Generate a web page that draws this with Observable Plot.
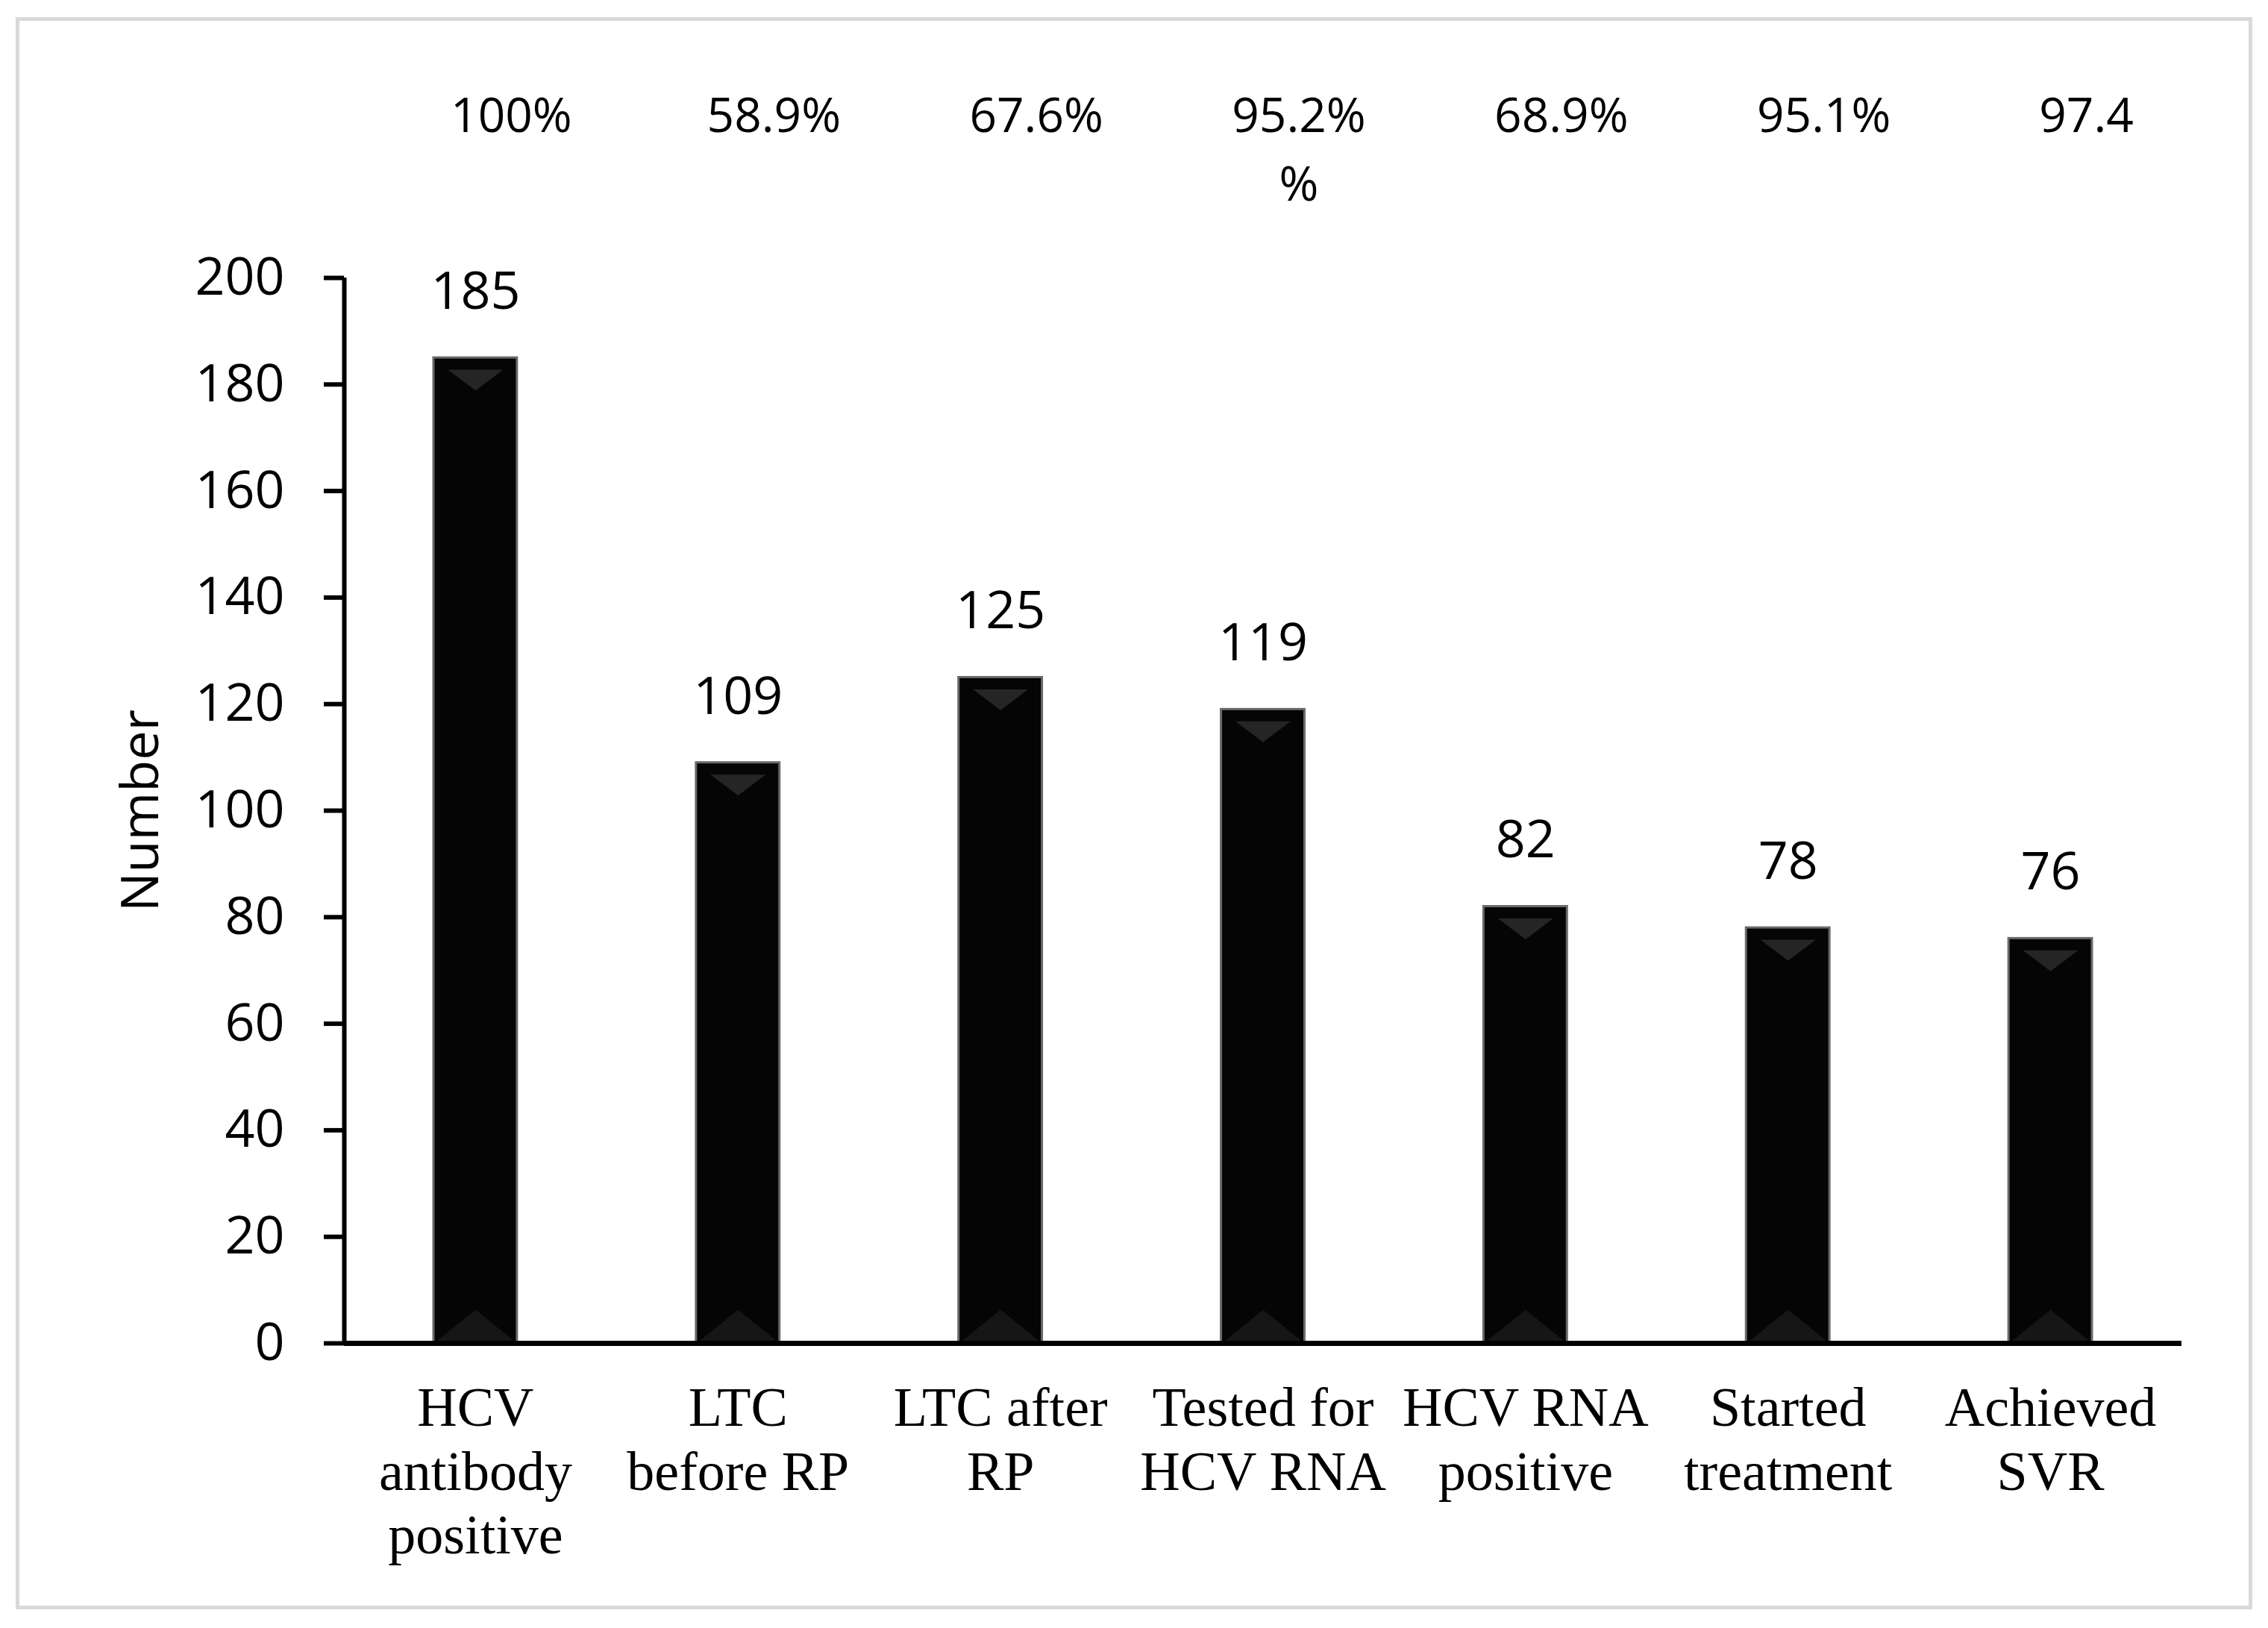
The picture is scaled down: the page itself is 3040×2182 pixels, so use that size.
<!DOCTYPE html>
<html>
<head>
<meta charset="utf-8">
<script src="https://cdn.jsdelivr.net/npm/d3@7"></script>
<script src="https://cdn.jsdelivr.net/npm/@observablehq/plot@0.6"></script>
<style>
  html, body { margin: 0; padding: 0; background: #ffffff; }
  #wrap { position: relative; width: 3040px; height: 2182px; overflow: hidden; background: #fff; }
  #wrap svg { position: absolute; left: 0; top: 0; }
  #border { position: absolute; left: 21px; top: 23px; width: 2998px; height: 2134px;
            box-sizing: border-box; border: 5px solid #d9d9d9; pointer-events: none; }
</style>
</head>
<body>
<div id="wrap"><div id="border"></div></div>
<script>
// ---- data ----
const categories = [
  "HCV\nantibody\npositive",
  "LTC\nbefore RP",
  "LTC after\nRP",
  "Tested for\nHCV RNA",
  "HCV RNA\npositive",
  "Started\ntreatment",
  "Achieved\nSVR"
];
const counts = [185, 109, 125, 119, 82, 78, 76];
const percentLabels = ["100%", "58.9%", "67.6%", "95.2%\n%", "68.9%", "95.1%", "97.4"];
const yTicks = [0, 20, 40, 60, 80, 100, 120, 140, 160, 180, 200];

const data = categories.map((c, i) => ({cat: c, value: counts[i], pct: percentLabels[i]}));

// ---- layout ----
const W = 3040, H = 2182;
const mL = 461, mR = 116, mT = 372, mB = 382;
const pInner = 0.682;
const step = (W - mL - mR) / categories.length;

const topBevel = {draw(ctx) { ctx.moveTo(-37, -14); ctx.lineTo(37, -14); ctx.lineTo(0, 14); ctx.closePath(); }};
const bottomBevel = {draw(ctx) { ctx.moveTo(-52, 21); ctx.lineTo(52, 21); ctx.lineTo(0, -21); ctx.closePath(); }};

const chart = Plot.plot({
  width: W,
  height: H,
  marginLeft: mL,
  marginRight: mR,
  marginTop: mT,
  marginBottom: mB,
  style: {fontFamily: "'Open Sans', sans-serif", color: "#000", background: "transparent"},
  x: {domain: categories, paddingInner: pInner, paddingOuter: pInner / 2, round: false, label: null},
  y: {domain: [0, 200], label: null},
  marks: [
    Plot.barY(data, {x: "cat", y: "value", fill: "#050505", stroke: "#6a6a6a", strokeWidth: 3}),
    Plot.dot(data, {x: "cat", y: "value", symbol: topBevel, fill: "#3a3a3a", fillOpacity: 0.6, stroke: null, dy: 30}),
    Plot.dot(data, {x: "cat", y: () => 0, symbol: bottomBevel, fill: "#1a1a1a", fillOpacity: 0.8, stroke: null, dy: -24}),
    Plot.ruleY([0], {strokeWidth: 7, stroke: "#000"}),
    Plot.ruleX([categories[0]], {x: d => d, y1: 0, y2: 200, dx: -step / 2, strokeWidth: 6, stroke: "#000"}),
    Plot.axisY({ticks: yTicks, tickSize: 27, tickPadding: 53, strokeWidth: 6, fontSize: 70, fill: "#000", label: null}),
    Plot.axisX({tickSize: 0, tickPadding: 50, fontSize: 74, fontFamily: "'Liberation Serif', 'Times New Roman', serif",
                lineHeight: 1.155, fill: "#000", label: null}),
    Plot.text(data, {x: "cat", y: "value", text: d => String(d.value), dy: -88, fontSize: 70, fill: "#000", lineAnchor: "middle"}),
    Plot.text(data, {x: "cat", text: "pct", frameAnchor: "top", lineAnchor: "top", dy: -261, dx: 48,
                     fontSize: 64, lineHeight: 1.44, fill: "#000"}),
    Plot.text(["Number"], {frameAnchor: "left", dx: -272, rotate: -90, fontSize: 70, fill: "#000",
                           textAnchor: "middle", lineAnchor: "middle"})
  ]
});
document.getElementById("wrap").insertBefore(chart, document.getElementById("border"));
</script>
</body>
</html>
